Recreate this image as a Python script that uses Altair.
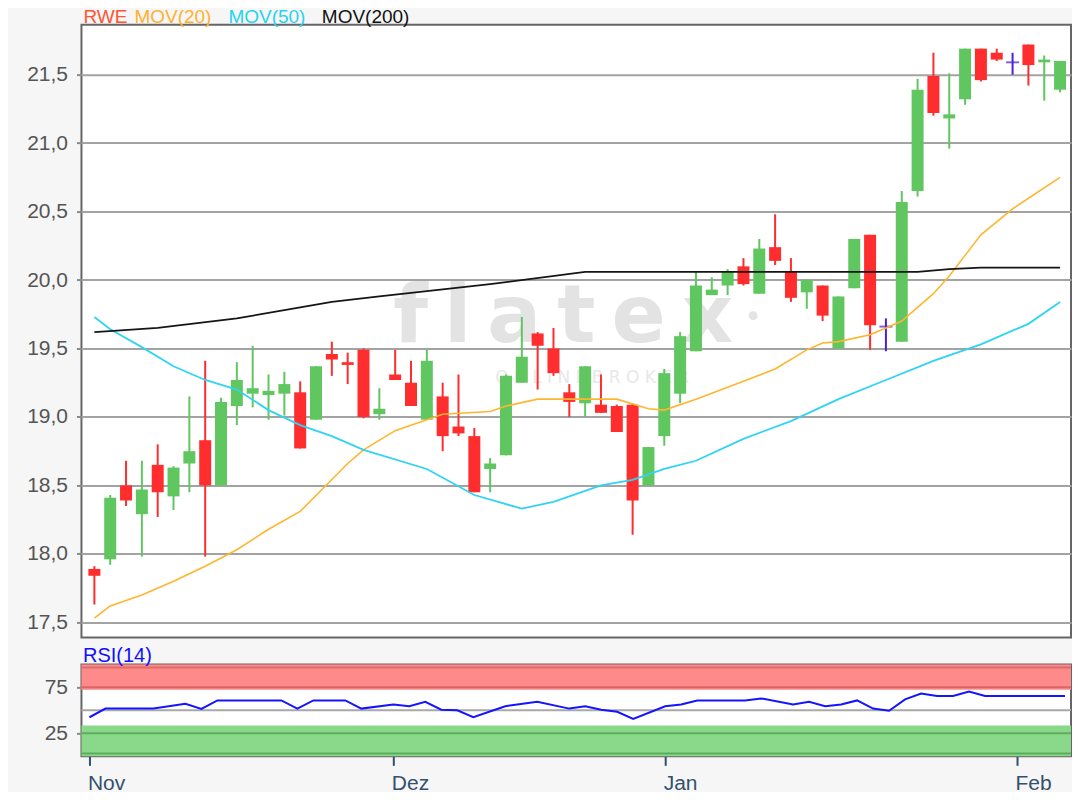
import altair as alt
import pandas as pd

# ---------------- data ----------------
day = list(range(62))
open_ = [17.89, 17.96, 18.50, 18.29, 18.65, 18.42, 18.66, 18.83, 18.50, 19.08,
         19.17, 19.16, 19.17, 19.18, 18.98, 19.46, 19.40, 19.49, 19.02, 19.31,
         19.25, 18.98, 19.15, 18.93, 18.86, 18.62, 18.72, 19.25, 19.61, 19.50,
         19.18, 19.10, 19.09, 19.08, 19.09, 18.50, 18.86, 19.17, 19.48, 19.89,
         19.96, 20.10, 19.90, 20.24, 20.06, 19.91, 19.96, 19.50, 19.94, 20.33,
         19.66, 19.55, 20.65, 21.49, 21.18, 21.32, 21.69, 21.66, 21.59, 21.72,
         21.59, 21.39]
high = [17.91, 18.43, 18.68, 18.68, 18.80, 18.64, 19.15, 19.41, 19.14, 19.40,
        19.52, 19.31, 19.33, 19.26, 19.37, 19.55, 19.47, 19.50, 19.21, 19.49,
        19.41, 19.49, 19.25, 19.31, 18.92, 18.70, 19.31, 19.73, 19.62, 19.65,
        19.24, 19.37, 19.31, 19.09, 19.10, 18.78, 19.35, 19.62, 20.06, 20.02,
        20.08, 20.16, 20.30, 20.48, 20.16, 20.00, 19.96, 19.88, 20.30, 20.33,
        19.72, 20.65, 21.47, 21.66, 21.51, 21.69, 21.69, 21.69, 21.66, 21.72,
        21.64, 21.60]
low = [17.63, 17.92, 18.35, 17.98, 18.27, 18.32, 18.45, 17.98, 18.50, 18.94,
       19.07, 18.98, 19.01, 18.77, 18.98, 19.30, 19.24, 18.99, 18.98, 19.27,
       19.08, 18.98, 18.75, 18.86, 18.45, 18.45, 18.72, 19.25, 19.20, 19.30,
       19.00, 19.00, 19.03, 18.89, 18.14, 18.50, 18.79, 19.10, 19.48, 19.89,
       19.89, 19.96, 19.90, 20.11, 19.84, 19.79, 19.70, 19.50, 19.94, 19.49,
       19.48, 19.55, 20.61, 21.20, 20.96, 21.28, 21.45, 21.60, 21.50, 21.42,
       21.31, 21.37]
close = [17.84, 18.41, 18.39, 18.47, 18.45, 18.63, 18.75, 18.50, 19.11, 19.27,
         19.21, 19.19, 19.24, 18.77, 19.37, 19.42, 19.38, 19.00, 19.06, 19.27,
         19.08, 19.41, 18.86, 18.88, 18.45, 18.66, 19.30, 19.44, 19.52, 19.32,
         19.11, 19.37, 19.03, 18.89, 18.39, 18.78, 19.32, 19.59, 19.96, 19.93,
         20.06, 19.97, 20.23, 20.14, 19.87, 20.00, 19.74, 19.88, 20.30, 19.67,
         19.66, 20.57, 21.39, 21.22, 21.21, 21.69, 21.46, 21.61, 21.59, 21.57,
         21.61, 21.60]

ma20_day = [0, 1, 3, 5, 7, 9, 11, 13, 16, 17, 19, 20, 22, 25, 26, 28, 30, 33, 35, 36,
            38, 41, 43, 45, 46, 47, 49, 50, 51, 53, 54, 55, 56, 58, 61]
ma20_val = [17.53, 17.62, 17.70, 17.80, 17.91, 18.03, 18.18, 18.31, 18.66, 18.76,
            18.90, 18.94, 19.02, 19.04, 19.08, 19.13, 19.13, 19.13, 19.06, 19.05,
            19.13, 19.26, 19.35, 19.49, 19.54, 19.55, 19.60, 19.65, 19.70, 19.90,
            20.03, 20.18, 20.33, 20.52, 20.75]

ma50_day = [0, 1, 3, 5, 7, 9, 11, 13, 15, 17, 21, 24, 27, 29, 32, 34, 36, 38, 41, 44,
            47, 50, 53, 56, 59, 61]
ma50_val = [19.73, 19.64, 19.51, 19.37, 19.27, 19.20, 19.05, 18.94, 18.86, 18.76,
            18.62, 18.43, 18.33, 18.38, 18.50, 18.54, 18.62, 18.68, 18.84, 18.97,
            19.13, 19.27, 19.41, 19.53, 19.68, 19.84]

ma200_day = [0, 4, 9, 13, 15, 18, 25, 31, 52, 54, 56, 61]
ma200_val = [19.62, 19.65, 19.72, 19.80, 19.84, 19.88, 19.97, 20.06, 20.06, 20.08,
             20.09, 20.09]

rsi_day = [0, 1, 4, 6, 7, 8, 12, 13, 14, 16, 17, 19, 20, 21, 22, 23, 24, 26, 28, 30,
           31, 32, 33, 34, 36, 37, 38, 41, 42, 44, 45, 46, 47, 48, 49, 50, 51, 52, 53, 54,
           55, 56, 61]
rsi_val = [42.5, 51.9, 51.9, 57.1, 51.5, 60.8, 60.8, 51.9, 60.8, 60.8,
           51.9, 56.3, 54.5, 59.3, 50.7, 50.0, 42.5, 54.5, 59.3, 51.9,
           54.5, 50.7, 48.5, 40.7, 54.5, 56.3, 60.8, 60.8, 63.0, 56.3,
           59.3, 54.5, 56.3, 60.8, 51.9, 49.6, 62.0, 68.3, 65.7, 65.7,
           70.5, 65.7, 65.7]

price_ticks = [17.5, 18.0, 18.5, 19.0, 19.5, 20.0, 20.5, 21.0, 21.5]
rsi_ticks = [25, 75]
month_day = [0, 19, 36, 58]
month_label = ["Nov", "Dez", "Jan", "Feb"]
legend_label = ["RWE", "MOV(20)", "MOV(50)", "MOV(200)"]
legend_color = ["#ff5533", "#ffb12e", "#28d2f0", "#111111"]
legend_px = [2, 53, 147, 240.5]

# RSI zones
band_lo = [72.5, 0]
band_hi = [100, 33.5]
band_fill = ["#ff8a8a", "#8ad88a"]
band_line_val = [96.5, 75, 25, 3]
band_line_col = ["#e06a6a", "#dc6464", "#5cae5c", "#5cae5c"]

GREEN = "#60c660"
RED = "#ff2d2d"
BLUE = "#4a20d8"
FONT = "Liberation Sans"
W = 990

# ---------------- frames ----------------
candles = pd.DataFrame({"day": day, "open": open_, "high": high, "low": low, "close": close})
candles["color"] = [GREEN if c > o else (RED if c < o else BLUE)
                    for o, c in zip(open_, close)]
bodies = candles[candles["open"] != candles["close"]]
doji = candles[candles["open"] == candles["close"]]

X_SCALE = alt.Scale(domain=[-0.5, 61.375], nice=False, zero=False)
Y_MAIN = alt.Scale(domain=[17.39, 21.865], nice=False, zero=False)
Y_RSI = alt.Scale(domain=[0, 100], nice=False, zero=False)

y_axis_main = alt.Axis(values=price_ticks,
                       labelExpr="replace(format(datum.value, '.1f'), '.', ',')",
                       title=None, grid=True, gridColor="#a3a3a3", gridWidth=2,
                       domain=False, tickSize=5, tickWidth=2, tickColor="#8a8a8a",
                       labelColor="#555555", labelFontSize=21, labelPadding=9,
                       labelFont=FONT)

xq = alt.X("day:Q", scale=X_SCALE, axis=None)

watermark = alt.Chart(pd.DataFrame({"t": ["f\u2009l\u2009a\u2009t\u2009e\u2009x"]})).mark_text(
    fontSize=80, font="DejaVu Sans", fontWeight="bold", color="#e3e3e3", align="center",
    baseline="alphabetic").encode(x=alt.value(482), y=alt.value(317), text="t:N")
watermark_dot = alt.Chart(pd.DataFrame({"t": ["\u2022"]})).mark_text(
    fontSize=30, font="DejaVu Sans", color="#e3e3e3", align="center",
    baseline="middle").encode(x=alt.value(672), y=alt.value(293), text="t:N")
watermark2 = alt.Chart(pd.DataFrame({"t": ["O    N    L    I    N    E         B    R    O    K    E    R"]})).mark_text(
    fontSize=17, font="DejaVu Sans", color="#e8e8e8", align="center",
    baseline="alphabetic").encode(x=alt.value(511), y=alt.value(358), text="t:N")

wicks = alt.Chart(candles).mark_rule(strokeWidth=2).encode(
    x=xq,
    y=alt.Y("low:Q", scale=Y_MAIN, axis=y_axis_main),
    y2="high:Q",
    color=alt.Color("color:N", scale=None),
)
body_layer = alt.Chart(bodies).mark_bar(size=12).encode(
    x=xq, y=alt.Y("open:Q", scale=Y_MAIN), y2="close:Q",
    color=alt.Color("color:N", scale=None),
)
doji_layer = alt.Chart(doji).mark_tick(orient="horizontal", size=13, thickness=2).encode(
    x=xq, y=alt.Y("open:Q", scale=Y_MAIN),
    color=alt.Color("color:N", scale=None),
)


def ma_line(days, vals, col, w):
    df = pd.DataFrame({"day": days, "v": vals})
    return alt.Chart(df).mark_line(color=col, strokeWidth=w).encode(
        x=xq, y=alt.Y("v:Q", scale=Y_MAIN))


lines = [ma_line(ma20_day, ma20_val, "#ffb52e", 1.6),
         ma_line(ma50_day, ma50_val, "#30d4f2", 1.8),
         ma_line(ma200_day, ma200_val, "#151515", 1.8)]

legend_layers = []
for lab, col, px in zip(legend_label, legend_color, legend_px):
    legend_layers.append(
        alt.Chart(pd.DataFrame({"t": [lab]})).mark_text(
            fontSize=19, font=FONT, color=col, align="left", baseline="alphabetic"
        ).encode(x=alt.value(px), y=alt.value(-2), text="t:N"))

main = alt.layer(watermark, watermark_dot, watermark2, wicks, body_layer, doji_layer,
                 *lines, *legend_layers).properties(width=W, height=613)

# ---------------- RSI panel ----------------
label_expr = " : ".join(f"datum.value == {d} ? '{l}'" for d, l in zip(month_day, month_label)) + " : ''"
x_axis_rsi = alt.Axis(values=month_day, labelExpr=label_expr, title=None, grid=False,
                      domain=False, tickSize=9, tickWidth=2, tickColor="#34506e",
                      labelColor="#34506e", labelFontSize=21, labelAlign="left",
                      labelOffset=-2, labelPadding=7, labelFont=FONT,
                      labelBound=False, labelFlush=False, labelOverlap=False)
y_axis_rsi = alt.Axis(values=rsi_ticks, title=None, grid=False, domain=False,
                      tickSize=5, tickWidth=2, tickColor="#8a8a8a",
                      labelColor="#555555", labelFontSize=21, labelPadding=9,
                      labelFont=FONT)

bands = pd.DataFrame({"lo": band_lo, "hi": band_hi, "c": band_fill})
band_layer = alt.Chart(bands).mark_rect().encode(
    x=alt.value(0), x2=alt.value("width"),
    y=alt.Y("lo:Q", scale=Y_RSI, axis=y_axis_rsi), y2="hi:Q",
    color=alt.Color("c:N", scale=None),
)
blines = pd.DataFrame({"v": band_line_val, "c": band_line_col})
bline_layer = alt.Chart(blines).mark_rule(strokeWidth=2).encode(
    y=alt.Y("v:Q", scale=Y_RSI), color=alt.Color("c:N", scale=None))
mid_layer = alt.Chart(pd.DataFrame({"v": [50]})).mark_rule(strokeWidth=2, color="#a8a8a8").encode(
    y=alt.Y("v:Q", scale=Y_RSI))
rsi_df = pd.DataFrame({"day": rsi_day, "v": rsi_val})
rsi_line = alt.Chart(rsi_df).mark_line(color="#1414ff", strokeWidth=2).encode(
    x=alt.X("day:Q", scale=X_SCALE, axis=x_axis_rsi),
    y=alt.Y("v:Q", scale=Y_RSI))
rsi_title = alt.Chart(pd.DataFrame({"t": ["RSI(14)"]})).mark_text(
    fontSize=20, font=FONT, color="#1010ff", align="left", baseline="alphabetic"
).encode(x=alt.value(1.5), y=alt.value(-2), text="t:N")

rsi = alt.layer(band_layer, bline_layer, mid_layer, rsi_line, rsi_title).properties(
    width=W, height=92)

chart = alt.vconcat(main, rsi, spacing=27, bounds="flush").properties(
    padding={"left": 17.5, "top": -1.5, "right": -1, "bottom": -3},
    background="#f6f6f6",
).configure_view(stroke="#666666", strokeWidth=2, fill="white")

chart.save("out.html", embed_options={"renderer": "svg", "actions": False})
